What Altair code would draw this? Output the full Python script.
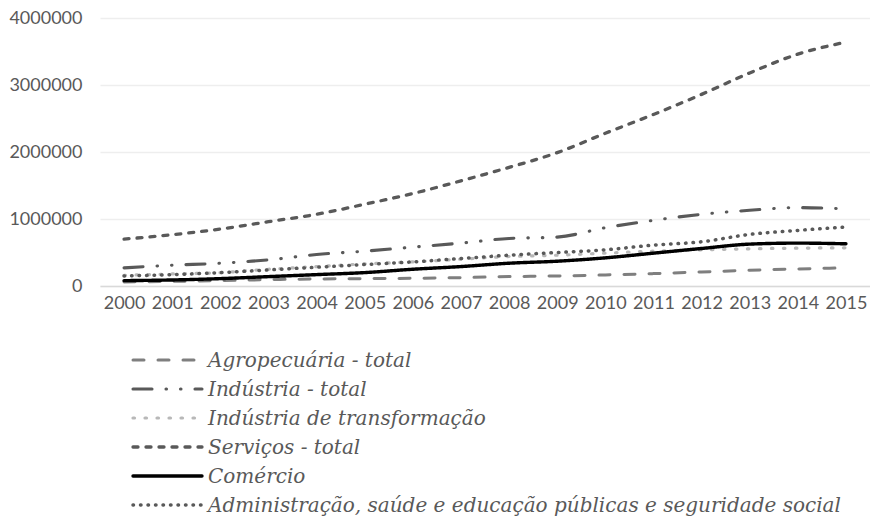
import altair as alt
import pandas as pd

# Valores por setor, 2000-2015
anos = [str(a) for a in range(2000, 2016)]

agropecuaria = [60000, 70000, 80000, 95000, 105000, 110000, 115000, 125000,
                140000, 150000, 165000, 185000, 210000, 235000, 255000, 270000]
industria = [270000, 310000, 340000, 390000, 470000, 520000, 580000, 640000,
             710000, 730000, 870000, 980000, 1070000, 1130000, 1170000, 1150000]
transformacao = [160000, 180000, 200000, 250000, 290000, 330000, 360000, 400000,
                 440000, 460000, 490000, 520000, 540000, 555000, 565000, 570000]
servicos = [700000, 765000, 850000, 960000, 1070000, 1220000, 1380000, 1570000,
            1770000, 1990000, 2280000, 2560000, 2860000, 3180000, 3460000, 3640000]
comercio = [80000, 90000, 110000, 140000, 170000, 200000, 250000, 290000,
            340000, 370000, 420000, 490000, 560000, 625000, 640000, 630000]
administracao = [150000, 170000, 200000, 240000, 280000, 320000, 360000, 410000,
                 460000, 500000, 540000, 610000, 660000, 770000, 830000, 880000]

series = [
    "Agropecuária - total",
    "Indústria - total",
    "Indústria de transformação",
    "Serviços - total",
    "Comércio",
    "Administração, saúde e educação públicas e seguridade social",
]
valores = [agropecuaria, industria, transformacao, servicos, comercio, administracao]

cores = ["#7f7f7f", "#595959", "#b8b8b8", "#595959", "#000000", "#595959"]
# round caps everywhere, so dash lengths are shortened by the stroke width
tracos = [
    [11, 14],
    [19, 14, 0.5, 14, 0.5, 14],
    [1.5, 10.5],
    [5, 8],
    [1, 0],
    [0.5, 7],
]
espessuras = [3, 3.5, 5.5, 3.5, 3.5, 2.5]

linhas = []
for nome, vals in zip(series, valores):
    for ano, v in zip(anos, vals):
        linhas.append({"ano": ano, "serie": nome, "valor": v})
df = pd.DataFrame(linhas)
df_legenda = pd.DataFrame({"serie": series})

cor = alt.Color("serie:N", scale=alt.Scale(domain=series, range=cores), legend=None)
traco = alt.StrokeDash("serie:N", scale=alt.Scale(domain=series, range=tracos), legend=None)
espessura = alt.StrokeWidth("serie:N", scale=alt.Scale(domain=series, range=espessuras), legend=None)

linhas_chart = (
    alt.Chart(df)
    .mark_line(interpolate="monotone", strokeCap="round", strokeJoin="round")
    .encode(
        x=alt.X(
            "ano:O",
            title=None,
            axis=alt.Axis(
                labelAngle=0,
                ticks=False,
                grid=False,
                domainColor="#d9d9d9",
                domainWidth=1.5,
                labelPadding=8,
            ),
        ),
        y=alt.Y(
            "valor:Q",
            title=None,
            scale=alt.Scale(domain=[0, 4000000], nice=False),
            axis=alt.Axis(
                values=[0, 1000000, 2000000, 3000000, 4000000],
                format="d",
                ticks=False,
                domain=False,
                labelPadding=18,
                gridColor="#eeeeee",
                gridWidth=1.5,
            ),
        ),
        color=cor,
        strokeDash=traco,
        strokeWidth=espessura,
    )
)

# legend rows below the plot
linha_legenda = alt.Y(
    "serie:N",
    title=None,
    axis=None,
    scale=alt.Scale(type="point", domain=series, range=[342, 487], padding=0),
)

amostras = (
    alt.Chart(df_legenda)
    .mark_rule(strokeCap="round")
    .encode(
        x=alt.value(33),
        x2=alt.value(102),
        y=linha_legenda,
        color=cor,
        strokeDash=traco,
        strokeWidth=espessura,
    )
)

rotulos = (
    alt.Chart(df_legenda)
    .mark_text(
        align="left",
        baseline="middle",
        font="DejaVu Serif",
        fontStyle="italic",
        fontSize=20,
        color="#595959",
        dy=1,
    )
    .encode(
        x=alt.value(108),
        y=linha_legenda,
        text="serie:N",
    )
)

chart = (
    alt.layer(linhas_chart, amostras, rotulos)
    .resolve_scale(y="independent")
    .properties(
        width=770,
        height=268,
        autosize=alt.AutoSizeParams(type="none"),
        padding={"left": 100, "top": 18, "right": 0, "bottom": 231},
    )
    .configure_view(stroke=None)
    .configure_axis(
        labelFont="Lato",
        labelFontSize=18,
        labelColor="#595959",
    )
)

chart.save("out.html", embed_options={"renderer": "svg", "actions": False})
